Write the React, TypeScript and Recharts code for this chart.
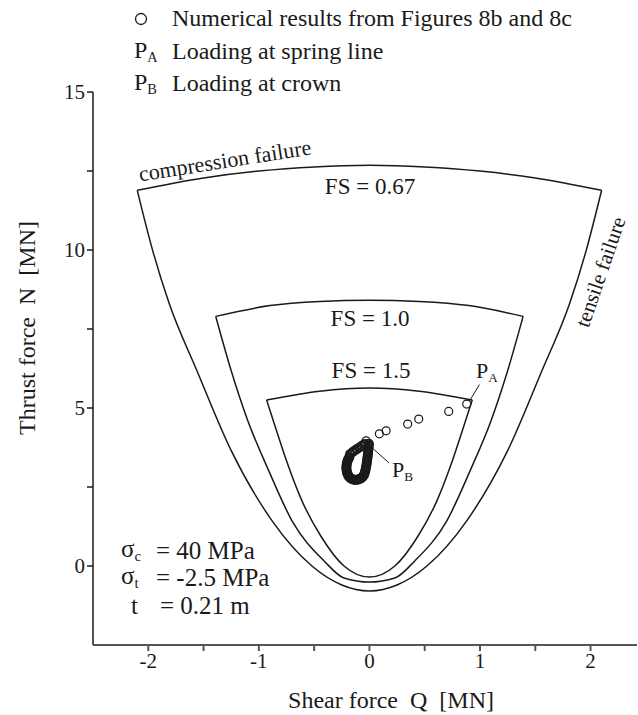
import React from "react";
import { ComposedChart, XAxis, YAxis, Line, Scatter, ReferenceLine } from "recharts";

// failure envelopes as [Q, N] in MN
const fs067Top = [[-2.1, 11.89], [-1.5, 12.28], [-1.0, 12.5], [-0.5, 12.63], [0, 12.68], [0.5, 12.63], [1.0, 12.5], [1.5, 12.28], [2.1, 11.89]];
const fs067Side = [[-2.1, 11.89], [-1.96, 9.98], [-1.81, 8.3], [-1.56, 6.18], [-1.25, 3.65], [-0.88, 1.43], [-0.52, 0.0], [-0.25, -0.6], [0, -0.79], [0.25, -0.6], [0.52, 0.0], [0.88, 1.43], [1.25, 3.65], [1.56, 6.18], [1.81, 8.3], [1.96, 9.98], [2.1, 11.89]];
const fs10Top = [[-1.39, 7.9], [-0.9, 8.24], [-0.45, 8.37], [0, 8.41], [0.45, 8.37], [0.9, 8.24], [1.39, 7.9]];
const fs10Side = [[-1.39, 7.9], [-1.25, 6.18], [-1.1, 4.6], [-0.91, 3.01], [-0.7, 1.43], [-0.41, 0.16], [-0.23, -0.38], [0, -0.51], [0.23, -0.38], [0.41, 0.16], [0.7, 1.43], [0.91, 3.01], [1.1, 4.6], [1.25, 6.18], [1.39, 7.9]];
const fs15Top = [[-0.93, 5.25], [-0.45, 5.53], [0, 5.63], [0.45, 5.53], [0.93, 5.25]];
const fs15Side = [[-0.93, 5.25], [-0.84, 4.28], [-0.75, 3.33], [-0.61, 2.06], [-0.44, 0.95], [-0.23, 0.0], [0, -0.35], [0.23, 0.0], [0.44, 0.95], [0.61, 2.06], [0.75, 3.33], [0.84, 4.28], [0.93, 5.25]];

// numerical results
const springPts = [[0.88, 5.125], [0.717, 4.891], [0.446, 4.65], [0.346, 4.491], [0.151, 4.279], [0.09, 4.184], [-0.03, 3.962]];
const crownPts = [
  [-0.005, 3.867], [-0.006, 3.803], [-0.008, 3.74], [-0.01, 3.677], [-0.012, 3.613], [-0.014, 3.55], [-0.015, 3.487], [-0.018, 3.423],
  [-0.02, 3.36], [-0.023, 3.296], [-0.025, 3.233], [-0.028, 3.17], [-0.032, 3.106], [-0.035, 3.043], [-0.04, 2.979], [-0.045, 2.916],
  [-0.052, 2.862], [-0.061, 2.821], [-0.072, 2.783], [-0.085, 2.758], [-0.099, 2.738], [-0.114, 2.726], [-0.128, 2.726], [-0.143, 2.732],
  [-0.157, 2.748], [-0.17, 2.773], [-0.181, 2.808], [-0.19, 2.853], [-0.197, 2.903], [-0.203, 2.96], [-0.206, 3.021], [-0.208, 3.081],
  [-0.208, 3.144], [-0.206, 3.208], [-0.203, 3.271], [-0.197, 3.334], [-0.19, 3.391], [-0.181, 3.445], [-0.175, 3.54], [-0.154, 3.597],
  [-0.136, 3.645], [-0.113, 3.699], [-0.09, 3.75], [-0.068, 3.803], [-0.045, 3.857],
];

const xTicks = [-2, -1.5, -1, -0.5, 0, 0.5, 1, 1.5, 2];
const yTicks = [0, 2.5, 5, 7.5, 10, 12.5, 15];

const toRows = (pts: number[][]) => pts.map(([q, n]) => ({ q, n }));

const font = "'Liberation Serif', 'Times New Roman', serif";
const ink = "#1a1a1a";

const Circle = (props: any) => (
  <circle cx={props.cx} cy={props.cy} r={4} fill="none" stroke={ink} strokeWidth={1.2} />
);
const DenseCircle = (props: any) => (
  <circle cx={props.cx} cy={props.cy} r={4} fill="none" stroke={ink} strokeWidth={2} />
);

const Txt = ({ x, y, size = 19, rot = 0, children }: any) => (
  <div
    style={{
      position: "absolute",
      left: x,
      top: y,
      transform: `translate(-50%, -50%) rotate(${rot}deg)`,
      fontFamily: font,
      fontSize: size,
      lineHeight: 1,
      whiteSpace: "pre",
      color: ink,
    }}
  >
    {children}
  </div>
);

const LeftTxt = ({ x, y, size = 19, children }: any) => (
  <div
    style={{
      position: "absolute",
      left: x,
      top: y,
      transform: "translateY(-50%)",
      fontFamily: font,
      fontSize: size,
      lineHeight: 1,
      whiteSpace: "pre",
      color: ink,
    }}
  >
    {children}
  </div>
);

const Sub = ({ children }: any) => (
  <span style={{ fontSize: "0.6em", verticalAlign: "-0.3em" }}>{children}</span>
);

const curve = (pts: number[][], key: string) => (
  <Line
    key={key}
    data={toRows(pts)}
    dataKey="n"
    type="monotone"
    stroke={ink}
    strokeWidth={1.5}
    dot={false}
    isAnimationActive={false}
  />
);

export default function App() {
  const tickStyle = { fontFamily: font, fontSize: 21, fill: ink };
  return (
    <div style={{ position: "absolute", left: 0, top: 0, width: 638, height: 715, background: "#fff" }}>
      <ComposedChart width={638} height={715} margin={{ top: 92, right: 1, bottom: 0, left: 0 }}>
        <XAxis
          type="number"
          dataKey="q"
          domain={[-2.5, 2.42]}
          allowDataOverflow
          ticks={xTicks}
          interval={0}
          tickFormatter={(v: number) => (Number.isInteger(v) ? String(v) : "")}
          height={70}
          tick={tickStyle}
          tickSize={6}
          stroke="#555"
          strokeWidth={2}
        />
        <YAxis
          type="number"
          dataKey="n"
          domain={[-2.5, 15]}
          allowDataOverflow
          ticks={yTicks}
          interval={0}
          tickFormatter={(v: number) => (Number.isInteger(v) ? String(v) : "")}
          width={93}
          tick={tickStyle}
          tickSize={6}
          stroke={ink}
          strokeWidth={1.5}
        />
        {curve(fs067Top, "a1")}
        {curve(fs067Side, "a2")}
        {curve(fs10Top, "b1")}
        {curve(fs10Side, "b2")}
        {curve(fs15Top, "c1")}
        {curve(fs15Side, "c2")}
        <ReferenceLine segment={[{ x: 0.905, y: 5.22 }, { x: 0.995, y: 5.74 }]} stroke={ink} strokeWidth={1} />
        <ReferenceLine segment={[{ x: 0.03, y: 3.72 }, { x: 0.175, y: 3.27 }]} stroke={ink} strokeWidth={1} />
        <Scatter data={toRows(springPts)} shape={Circle} isAnimationActive={false} />
        <Scatter data={toRows(crownPts)} shape={DenseCircle} isAnimationActive={false} />
      </ComposedChart>

      {/* legend */}
      <svg style={{ position: "absolute", left: 134, top: 12 }} width={14} height={14}>
        <circle cx={7} cy={7} r={5.5} fill="none" stroke={ink} strokeWidth={1.3} />
      </svg>
      <LeftTxt x={172} y={18} size={24}>Numerical results from Figures 8b and 8c</LeftTxt>
      <LeftTxt x={134} y={51} size={24}>P<Sub>A</Sub></LeftTxt>
      <LeftTxt x={172} y={51} size={24}>Loading at spring line</LeftTxt>
      <LeftTxt x={134} y={83} size={24}>P<Sub>B</Sub></LeftTxt>
      <LeftTxt x={172} y={83} size={24}>Loading at crown</LeftTxt>

      {/* annotations */}
      <Txt x={225} y={161} size={22} rot={-9}>compression failure</Txt>
      <Txt x={370} y={186} size={23}>FS = 0.67</Txt>
      <Txt x={370} y={318} size={23}>FS = 1.0</Txt>
      <Txt x={371} y={370} size={23}>FS = 1.5</Txt>
      <Txt x={601} y={272} size={21} rot={-71}>tensile failure</Txt>
      <LeftTxt x={476} y={372} size={22}>P<Sub>A</Sub></LeftTxt>
      <LeftTxt x={392} y={471} size={22}>P<Sub>B</Sub></LeftTxt>

      {/* material parameters */}
      <LeftTxt x={121} y={550} size={25}>σ<Sub>c</Sub></LeftTxt>
      <LeftTxt x={156} y={550} size={25}>= 40 MPa</LeftTxt>
      <LeftTxt x={121} y={577} size={25}>σ<Sub>t</Sub></LeftTxt>
      <LeftTxt x={156} y={577} size={25}>= -2.5 MPa</LeftTxt>
      <LeftTxt x={131} y={605} size={25}>t</LeftTxt>
      <LeftTxt x={160} y={605} size={25}>= 0.21 m</LeftTxt>

      {/* axis titles */}
      <Txt x={391} y={700} size={24}>Shear force  Q  [MN]</Txt>
      <Txt x={27} y={328} size={24} rot={-90}>Thrust force  N  [MN]</Txt>
    </div>
  );
}
